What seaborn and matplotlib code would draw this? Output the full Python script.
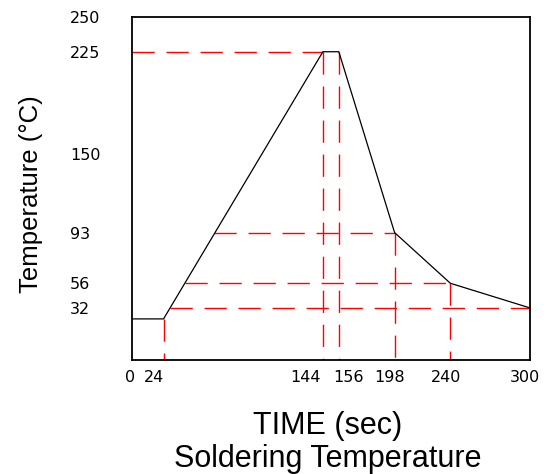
# Soldering temperature profile
import numpy as np
import pandas as pd
import seaborn as sns
import matplotlib
matplotlib.use("Agg")
import matplotlib.pyplot as plt
from matplotlib.transforms import ScaledTranslation

# profile points
time = [0, 24, 144, 156, 198, 240, 300]
temp = [30, 30, 225, 225, 93, 56, 38]

# dashed guide lines
h_level = [225, 93, 56, 38]
h_start = [0, 62, 40, 29]
h_end = [144, 198, 240, 300]
v_time = [24, 144, 156, 198, 240]
v_top = [30, 225, 225, 93, 56]

# axis ticks
x_ticks = [0, 24, 144, 156, 198, 240, 300]
x_labels = ["0", "24", "144", "156", "198", "240", "300"]
y_ticks = [38, 56, 93, 150, 225, 250]
y_labels = ["32", "56", "93", "150", "225", "250"]

df = pd.DataFrame({"time": time, "temp": temp})

sns.set_style("white")
plt.rcParams["font.family"] = ["Liberation Sans", "DejaVu Sans"]
plt.rcParams["text.color"] = "black"
plt.rcParams["axes.labelcolor"] = "black"
plt.rcParams["xtick.color"] = "black"
plt.rcParams["ytick.color"] = "black"

fig = plt.figure(figsize=(5.48, 4.74), dpi=100)
ax = fig.add_axes([0.2403, 0.2405, 0.7269, 0.7226])

# red dashed guides
for y, x0, x1 in zip(h_level, h_start, h_end):
    ax.plot([x0, x1], [y, y], color="red", lw=1, dashes=(16, 8.5), zorder=1)
for x, y in zip(v_time, v_top):
    ax.plot([x, x], [y, 0], color="red", lw=1, dashes=(16, 8.5), zorder=1)

sns.lineplot(data=df, x="time", y="temp", color="black", lw=0.9, sort=False,
             estimator=None, ax=ax, zorder=2)

ax.set_xlim(0, 300)
ax.set_ylim(0, 250)

tick_font = dict(fontfamily="DejaVu Sans", fontsize=11.5, color="black")
ax.set_xticks(x_ticks, x_labels, **tick_font)
ax.set_yticks(y_ticks, y_labels, **tick_font)
ax.tick_params(axis="x", length=0, pad=7)
ax.tick_params(axis="y", length=0, pad=44.4)
for lab in ax.get_yticklabels():
    lab.set_ha("left")

# nudge crowded x labels like the original
x_shift = [-2, -10, -17, 10, -5, -4, -5]
for lab, dx in zip(ax.get_xticklabels(), x_shift):
    lab.set_transform(lab.get_transform() + ScaledTranslation(dx / 100, 0, fig.dpi_scale_trans))

for sp in ax.spines.values():
    sp.set_color("black")
    sp.set_linewidth(1.3)

ax.set_xlabel("TIME (sec)\nSoldering Temperature", fontsize=22, va="top", linespacing=1.15)
ax.xaxis.set_label_coords(0.493, -0.148)
ax.set_ylabel("Temperature (°C)", fontsize=18.5)
ax.yaxis.set_label_coords(-0.222, 0.485)

fig.savefig("out.png", dpi=100)
